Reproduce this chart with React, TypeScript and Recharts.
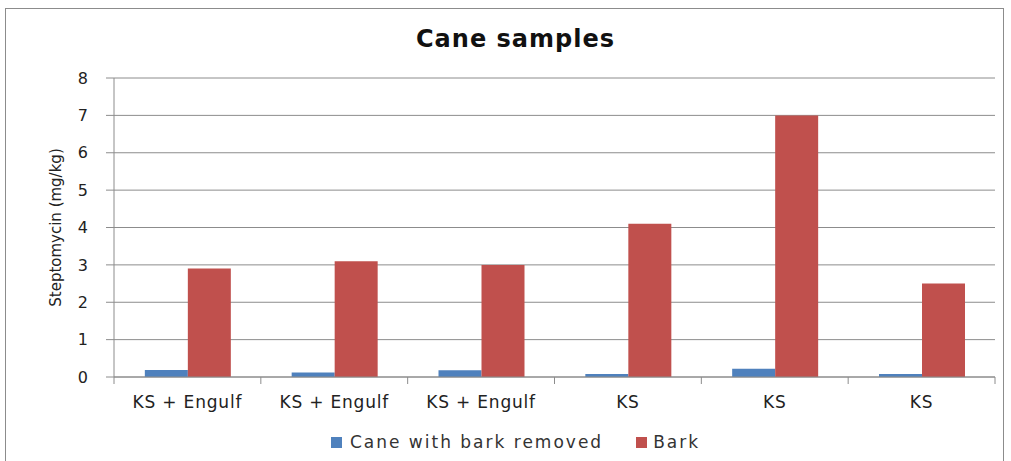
import React from 'react';
import { BarChart, Bar, XAxis, YAxis, CartesianGrid, Legend } from 'recharts';

const categories = ['KS + Engulf', 'KS + Engulf', 'KS + Engulf', 'KS', 'KS', 'KS'];
const caneValues = [0.19, 0.12, 0.18, 0.08, 0.22, 0.08];
const barkValues = [2.9, 3.1, 3.0, 4.1, 7.0, 2.5];
const yTicks = [0, 1, 2, 3, 4, 5, 6, 7, 8];

const data = categories.map((name, i) => ({
  name,
  cane: caneValues[i],
  bark: barkValues[i],
}));

const FONT = '"DejaVu Sans", sans-serif';
const AXIS = '#8c8c8c';

// Excel-style category axis: tick marks between categories, label in the middle
const CategoryTick: React.FC<any> = ({ x, y, payload, index, visibleTicksCount }) => {
  const half = payload?.offset ?? 0;
  const last = index === (visibleTicksCount ?? categories.length) - 1;
  return (
    <g>
      <line x1={x - half} x2={x - half} y1={y} y2={y + 7} stroke={AXIS} />
      {last && <line x1={x + half} x2={x + half} y1={y} y2={y + 7} stroke={AXIS} />}
      <text x={x} y={y + 31} textAnchor="middle" fill="#222" fontSize={17} fontFamily={FONT} letterSpacing={0.8}>
        {payload.value}
      </text>
    </g>
  );
};

const LegendContent: React.FC<any> = () => (
  <div style={{ display: 'flex', justifyContent: 'center', fontFamily: FONT, fontSize: 17, color: '#333', letterSpacing: 2, paddingLeft: 36 }}>
    <span style={{ display: 'flex', alignItems: 'center', marginRight: 33 }}>
      <span style={{ width: 11, height: 11, background: '#4f81bd', marginRight: 8, display: 'inline-block' }} />
      Cane with bark removed
    </span>
    <span style={{ display: 'flex', alignItems: 'center' }}>
      <span style={{ width: 11, height: 11, background: '#c0504d', marginRight: 6, display: 'inline-block' }} />
      Bark
    </span>
  </div>
);

const App: React.FC = () => {
  return (
    <div style={{ position: 'absolute', left: 0, top: 0, width: 1011, height: 461, background: '#fff', overflow: 'hidden' }}>
      <div style={{ position: 'absolute', left: 5, top: 8, width: 997, height: 470, border: '1px solid ' + AXIS }} />
      <div style={{ position: 'absolute', left: 10, top: 25, width: 1011, textAlign: 'center', fontFamily: FONT, fontWeight: 'bold', fontSize: 24, letterSpacing: 1, color: '#111' }}>
        Cane samples
      </div>
      <BarChart
        width={1011}
        height={461}
        data={data}
        barCategoryGap="21%"
        barGap={0}
        margin={{ top: 78, right: 16, left: 0, bottom: 4 }}
        style={{ position: 'absolute', left: 0, top: 0 }}
      >
        <CartesianGrid vertical={false} stroke={AXIS} />
        <XAxis
          dataKey="name"
          height={55}
          interval={0}
          tickLine={false}
          tickSize={0}
          tickMargin={0}
          axisLine={{ stroke: AXIS }}
          tick={<CategoryTick />}
        />
        <YAxis
          domain={[0, 8]}
          ticks={yTicks}
          width={114}
          tickLine={{ stroke: AXIS }}
          tickSize={8}
          axisLine={{ stroke: AXIS }}
          tick={{ fill: '#222', fontSize: 16, fontFamily: FONT }}
          tickMargin={18}
          label={{
            value: 'Steptomycin (mg/kg)',
            angle: -90,
            position: 'insideLeft',
            offset: 56,
            style: { fill: '#222', fontSize: 15, fontFamily: FONT, textAnchor: 'middle' },
          }}
        />
        <Legend verticalAlign="bottom" height={25} content={<LegendContent />} />
        <Bar dataKey="cane" name="Cane with bark removed" fill="#4f81bd" isAnimationActive={false} />
        <Bar dataKey="bark" name="Bark" fill="#c0504d" isAnimationActive={false} />
      </BarChart>
    </div>
  );
};

export default App;
